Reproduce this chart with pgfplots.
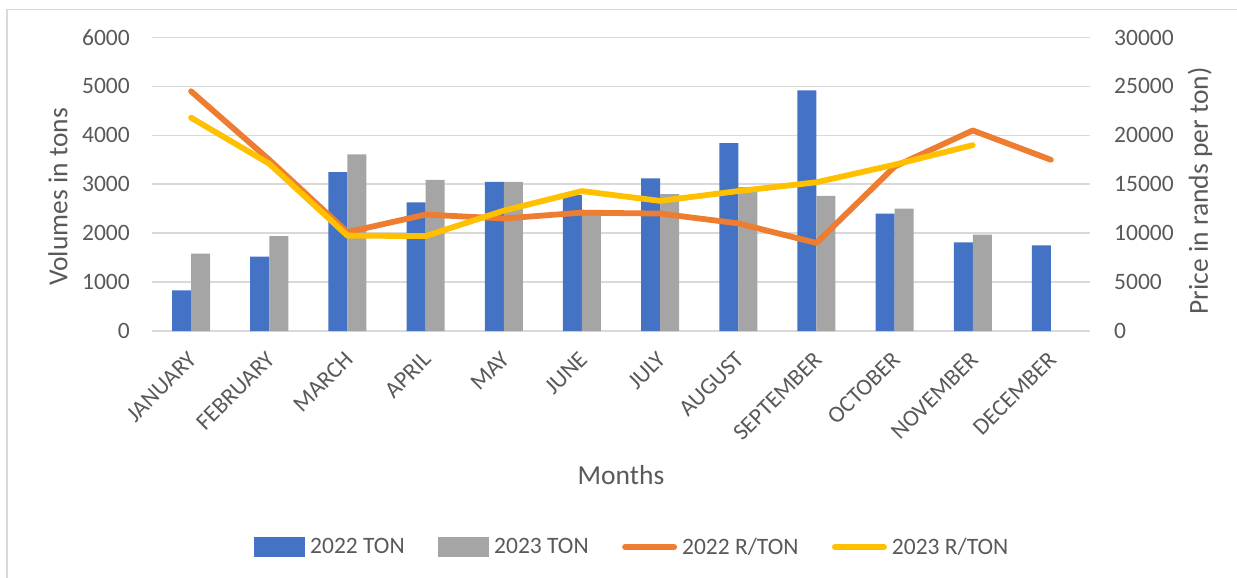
\documentclass[border=0pt]{standalone}
\usepackage{pgfplots}
\pgfplotsset{compat=1.18}
\usepackage{fontspec}
\setmainfont{Carlito}
\definecolor{barblue}{HTML}{4472C4}
\definecolor{bargrey}{HTML}{A5A5A5}
\definecolor{lorange}{HTML}{ED7D31}
\definecolor{lyellow}{HTML}{FFC000}
\definecolor{txt}{HTML}{595959}
\definecolor{gridc}{HTML}{D9D9D9}
\begin{document}
\begin{tikzpicture}[x=1pt,y=1pt]
\useasboundingbox (-152,-247) rectangle (1085,331);
\draw[gridc, line width=1.5pt] (-145,-300) -- (-145,321.5) -- (1200,321.5);
\begin{axis}[
  at={(0,0)}, anchor=south west,
  scale only axis, width=938pt, height=293.5pt,
  xmin=-0.5, xmax=11.5, ymin=0, ymax=6000,
  xtick={0,...,11},
  xticklabels={JANUARY,FEBRUARY,MARCH,APRIL,MAY,JUNE,JULY,AUGUST,SEPTEMBER,OCTOBER,NOVEMBER,DECEMBER},
  ytick={0,1000,...,6000},
  ymajorgrids, grid style={gridc, line width=1.6pt},
  axis line style={draw=none},
  major tick style={draw=none},
  tick label style={txt, font=\fontsize{23.5}{28}\selectfont},
  /pgf/number format/assume math mode=true,
  /pgf/number format/1000 sep={},
  scaled y ticks=false,
  yticklabel style={anchor=east, inner sep=0pt, xshift=-22pt},
  xticklabel style={rotate=45, anchor=north east, inner sep=0pt, xshift=-16.3pt, yshift=-10.6pt},
  xlabel={Months}, ylabel={Volumes in tons},
  label style={txt, font=\fontsize{27.5}{32}\selectfont},
  xlabel style={at={(axis description cs:0.5,-0.4906)}, anchor=center},
  ylabel style={at={(axis description cs:-0.1002,0.4566)}, anchor=center},
]
\addplot[ybar, bar width=19pt, bar shift=-9.5pt, fill=barblue, draw=none] coordinates {
 (0,830) (1,1520) (2,3250) (3,2630) (4,3050) (5,2780) (6,3120) (7,3840) (8,4920) (9,2400) (10,1810) (11,1750)};
\addplot[ybar, bar width=19pt, bar shift=9.5pt, fill=bargrey, draw=none] coordinates {
 (0,1580) (1,1940) (2,3610) (3,3090) (4,3050) (5,2470) (6,2800) (7,2940) (8,2760) (9,2500) (10,1970)};
\end{axis}
\begin{axis}[
  at={(0,0)}, anchor=south west,
  scale only axis, width=938pt, height=293.5pt,
  xmin=-0.5, xmax=11.5, ymin=0, ymax=30000,
  axis x line=none, axis y line*=right,
  y axis line style={draw=none},
  ytick={0,5000,...,30000},
  major tick style={draw=none},
  tick label style={txt, font=\fontsize{23.5}{28}\selectfont},
  /pgf/number format/assume math mode=true,
  /pgf/number format/1000 sep={},
  scaled y ticks=false,
  yticklabel style={anchor=west, inner sep=0pt, xshift=24pt},
  ylabel={Price in rands per ton)},
  label style={txt, font=\fontsize{27.5}{32}\selectfont},
  ylabel style={at={(axis description cs:1.1173,0.477)}, anchor=center},
  legend columns=4,
  legend style={draw=none, fill=none, at={(axis description cs:0.512,-0.736)}, anchor=center,
    font=\fontsize{23.5}{28}\selectfont, text=txt,
    /tikz/every even column/.append style={column sep=31.5pt}},
  legend cell align=left,
]
\addlegendimage{legend image code/.code={\fill[barblue, draw=none] (0pt,-9.75pt) rectangle (51pt,9.75pt); \path[draw=none, fill=none] (0pt,0pt) -- (54pt,0pt);}}
\addlegendentry{2022 TON}
\addlegendimage{legend image code/.code={\fill[bargrey, draw=none] (0pt,-9.75pt) rectangle (51pt,9.75pt); \path[draw=none, fill=none] (0pt,0pt) -- (54pt,0pt);}}
\addlegendentry{2023 TON}
\addplot[lorange, line width=5.8pt, line cap=round, line join=round,
  legend image code/.code={\draw[lorange, line width=5.8pt, line cap=round] (2.9pt,0pt) -- (52pt,0pt); \path[draw=none, fill=none] (0pt,0pt) -- (58pt,0pt);}] coordinates {
 (0,24500) (1,17500) (2,10100) (3,11900) (4,11500) (5,12100) (6,12000) (7,11000) (8,9000) (9,16800) (10,20500) (11,17500)};
\addlegendentry{2022 R/TON}
\addplot[lyellow, line width=5.8pt, line cap=round, line join=round,
  legend image code/.code={\draw[lyellow, line width=5.8pt, line cap=round] (2.9pt,0pt) -- (52pt,0pt); \path[draw=none, fill=none] (0pt,0pt) -- (58pt,0pt);}] coordinates {
 (0,21800) (1,17100) (2,9750) (3,9700) (4,12300) (5,14300) (6,13300) (7,14300) (8,15200) (9,17000) (10,19000)};
\addlegendentry{2023 R/TON}
\end{axis}
\end{tikzpicture}
\end{document}
